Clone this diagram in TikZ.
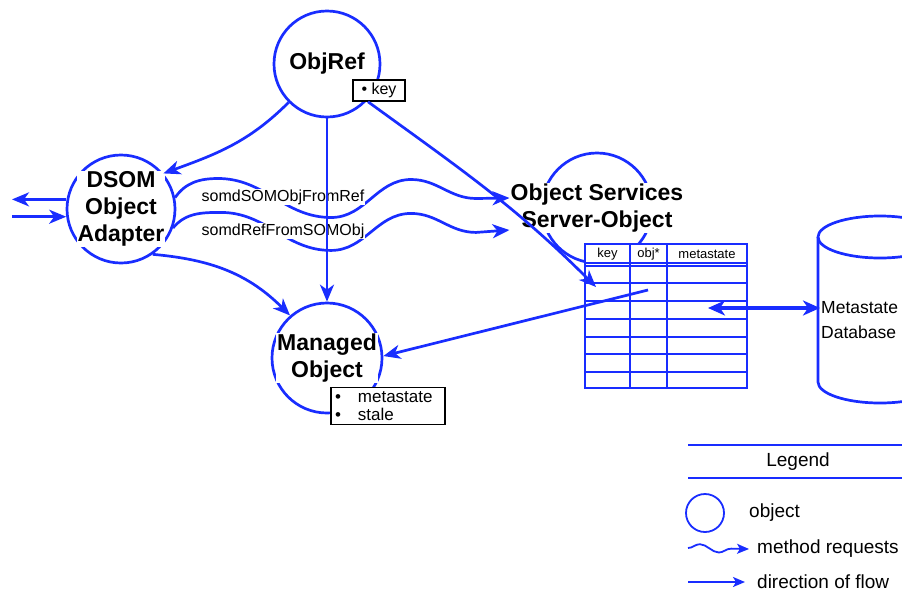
\documentclass[tikz,border=0pt]{standalone}
\usepackage{fontspec}
\setmainfont{Liberation Sans}
\usepackage{tikz}
\usetikzlibrary{arrows.meta, decorations.pathmorphing}
\definecolor{flowblue}{RGB}{25,45,255}
\tikzset{
	obj/.style={circle, draw=flowblue, line width=2.7pt, inner sep=0pt},
	title/.style={font=\bfseries\fontsize{23}{27}\selectfont, fill=white, inner sep=1pt, align=center},
	flow/.style={draw=flowblue, line width=2.7pt, arrows={-Stealth[length=17pt,width=14pt,inset=5pt]}},
	bothflow/.style={draw=flowblue, line width=3.2pt, arrows={Stealth[length=17pt,width=15pt,inset=5pt]-Stealth[length=17pt,width=15pt,inset=5pt]}},
	legflow/.style={draw=flowblue, line width=1.8pt, arrows={-Stealth[length=12pt,width=10pt,inset=3pt]}},
	wavelbl/.style={font=\fontsize{16}{18}\selectfont, fill=white, inner sep=0.5pt},
	attr/.style={draw=black, line width=1.5pt, fill=white, align=left},
	tblline/.style={draw=flowblue, line width=1.5pt},
	tblhead/.style={font=\fontsize{13}{15}\selectfont, inner sep=0pt},
	legtext/.style={font=\fontsize{19}{22}\selectfont, anchor=west, inner sep=0pt},
}
\begin{document}
\begin{tikzpicture}[x=1pt, y=1pt]
		\useasboundingbox (0,0) rectangle (902,-595);
		\clip (0,0) rectangle (902,-595);

		\node[obj, minimum size=106pt] (objref) at (327,-64) {};
		\node[obj, minimum size=108pt] (dsom) at (121,-209) {};
		\node[obj, minimum size=110pt] (managed) at (327,-358) {};
		\node[obj, minimum size=110pt] (oss) at (597,-208) {};

		\draw[flowblue, line width=2.7pt] (818,-237) -- (818,-382) arc[start angle=180, end angle=360, x radius=62, y radius=21];
		\draw[flowblue, line width=2.7pt] (880,-237) ellipse [x radius=62, y radius=21];
		\node[font=\fontsize{17.5}{25}\selectfont, align=left, anchor=west, inner sep=1pt] (db) at (820,-320) {Metastate\\Database};

		\node[title] (objreftxt) at (objref) {ObjRef};
		\node[title] (dsomtxt) at (dsom) {DSOM\\Object\\Adapter};
		\node[title] (managedtxt) at (managed) {Managed\\Object};
		\node[title] (osstxt) at (oss) {Object Services\\Server-Object};

		% method requests
		\draw[flow] (dsom.12) to[out=55,in=180] ++(43,19) to[out=0,in=180] ++(113,-39) to[out=0,in=180] ++(80,38) to[out=0,in=180] ++(65,-19) -- ([yshift=10pt]osstxt.west);
		\draw[flow] (dsom.-20) to[out=50,in=180] ++(48,15.5) to[out=0,in=180] ++(110,-38) to[out=0,in=180] ++(80,37) to[out=0,in=180] ++(65,-19) -- ([yshift=-22pt]osstxt.west);
		\node[wavelbl] (reqa) at (283,-197) {somdSOMObjFromRef};
		\node[wavelbl] (reqb) at (283,-231) {somdRefFromSOMObj};

		% table
		\fill[white] (585,-244) rectangle (747,-388);
		\foreach \y in {-263,-266,-283,-301,-319,-337,-354,-372}
			\draw[tblline] (585,\y) -- (747,\y);
		\foreach \x in {630,667}
			\draw[tblline] (\x,-244) -- (\x,-388);
		\draw[tblline] (585,-244) rectangle (747,-388);
		\node[tblhead] (hkey) at (607.5,-254) {key};
		\node[tblhead] (hobj) at (648.5,-254) {obj*};
		\node[tblhead] (hmeta) at (707,-254) {metastate};
		\coordinate (keycell) at (596,-287);
		\coordinate (objcell) at (648,-290);
		\coordinate (metacell) at (708,-308);

		\node[attr, font=\fontsize{16}{18}\selectfont, minimum width=52pt, minimum height=21pt, inner sep=2pt] (key) at (379,-90.5) {\textbullet\ key};
		\node[attr, font=\fontsize{17}{18}\selectfont, text width=106pt, inner sep=4pt] (mattr) at (388,-406) {\textbullet\quad metastate\\\textbullet\quad stale};

		% flow
		\coordinate (leftedge) at (12,0);
		\draw[flow] (objref.225) to[out=225,in=20] (dsom.40);
		\draw[flow] (objref.south) -- (managed.north);
		\draw[flow] ([xshift=-11pt]key.south) to[out=-36,in=135] (keycell);
		\draw[flow] (dsom.-55) to[out=-5,in=135] (managed.131);
		\draw[flow] (objcell) -- (managed.2);
		\draw[bothflow] (metacell) -- ([yshift=12pt]db.west);
		\draw[flow] (dsom.170) -- (dsom.170 -| leftedge);
		\draw[flow] (leftedge |- dsom.188) -- (dsom.188);

		% legend
		\draw[flowblue, line width=1.8pt] (688,-445) -- (902,-445);
		\draw[flowblue, line width=1.8pt] (688,-478) -- (902,-478);
		\node[font=\fontsize{19}{22}\selectfont] (legend) at (798,-462) {Legend};
		\node[circle, draw=flowblue, line width=1.8pt, minimum size=38pt] (legobj) at (705,-513) {};
		\node[legtext] (legobjtxt) at (749,-513) {object};
		\coordinate (legreqa) at (688,-548);
		\node[legtext] (legreqtxt) at (757,-549) {method requests};
		\draw[legflow, decorate, decoration={snake, segment length=38pt, amplitude=4pt, post length=16pt}] (legreqa) -- ([xshift=-8pt]legreqtxt.west);
		\coordinate (legflowa) at (688,-582);
		\node[legtext] (legflowtxt) at (757,-582) {direction of flow};
		\draw[legflow] (legflowa) -- ([xshift=-12pt]legflowtxt.west);
	\end{tikzpicture}
\end{document}
